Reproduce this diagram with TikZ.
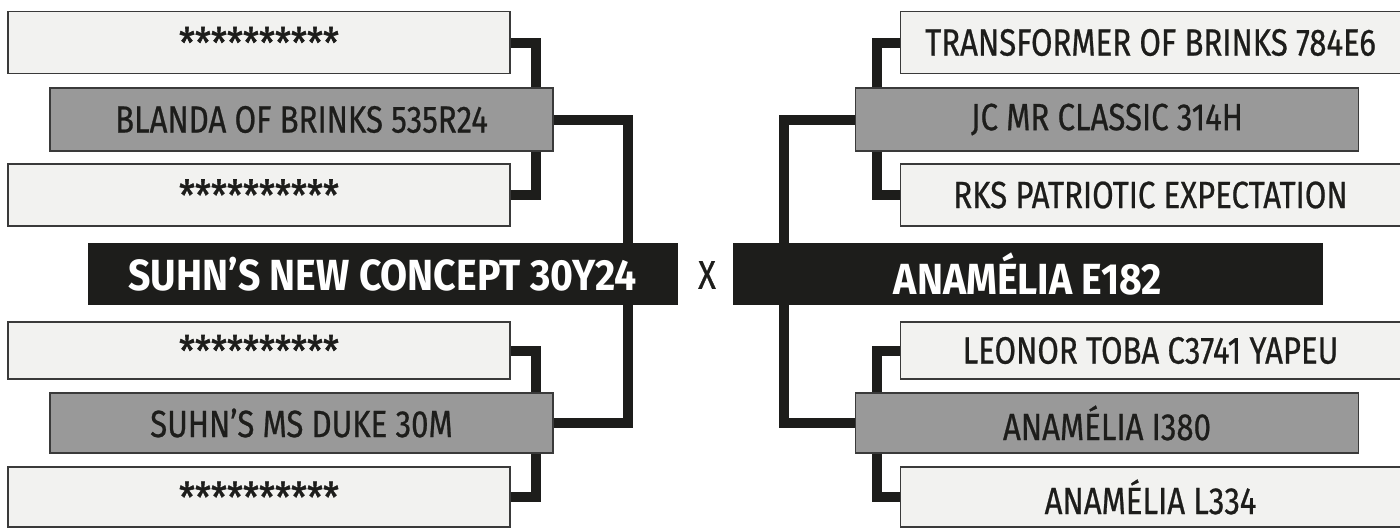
\documentclass[tikz,border=0pt]{standalone}
\usepackage{fontspec}
\setmainfont{Fira Sans}[FakeStretch=0.82,FakeBold=0.6]
\newfontfamily\mainboldfont{Fira Sans}[FakeStretch=0.9]
\newfontfamily\starfont{Fira Sans}[FakeStretch=0.86,FakeBold=1.2]
\definecolor{ink}{HTML}{1D1D1B}
\definecolor{lightfill}{HTML}{F2F2F0}
\definecolor{midfill}{HTML}{999999}
\definecolor{edge}{HTML}{3A3A3A}
\newcommand{\stars}{\raisebox{-1.5pt}{\starfont\fontsize{21}{22}\selectfont **********}}
\begin{document}
\begin{tikzpicture}[x=0.5pt,y=-0.5pt,
  lightbox/.style={draw=edge,line width=0.6pt,fill=lightfill,text=ink,inner sep=0pt,
    minimum width=251pt,minimum height=31pt,font=\fontsize{19}{20}\selectfont},
  midbox/.style={draw=edge,line width=0.6pt,fill=midfill,text=ink,inner sep=0pt,
    minimum width=251.5pt,minimum height=31.5pt,font=\fontsize{19}{20}\selectfont},
  mainbox/.style={fill=ink,text=white,inner sep=0pt,
    minimum width=295pt,minimum height=31pt,font=\mainboldfont\bfseries\fontsize{21.8}{22}\selectfont},
  conn/.style={draw=ink,line width=5pt,line join=miter}]
\useasboundingbox (0,0) rectangle (1400,527);
% left side
\node[lightbox] (L1) at (259,42.5) {\stars};
\node[midbox]   (L2) at (301.5,119.5) {BLANDA OF BRINKS 535R24};
\node[lightbox] (L3) at (259,195) {\stars};
\node[mainbox]  (ML) at (382.5,274) {SUHN’S NEW CONCEPT 30Y24};
\node[lightbox,minimum height=28.5pt] (L4) at (259,350.5) {\stars};
\node[midbox,minimum height=30pt]   (L5) at (301.5,423) {SUHN’S MS DUKE 30M};
\node[lightbox,minimum height=30pt] (L6) at (259,497) {\stars};
% middle
\node[text=ink,font=\fontsize{20}{21}\selectfont] (X) at (707,275) {X};
% right side
\node[lightbox,minimum width=250pt] (R1) at (1150.5,42.5) {TRANSFORMER OF BRINKS 784E6};
\node[midbox]   (R2) at (1107,119.5) {JC MR CLASSIC 314H};
\node[lightbox,minimum width=250pt] (R3) at (1150.5,195) {RKS PATRIOTIC EXPECTATION};
\node[mainbox]  (MR) at (1028,274) {ANAMÉLIA E182};
\node[lightbox,minimum width=250pt,minimum height=28.5pt] (R4) at (1150.5,350.5) {LEONOR TOBA C3741 YAPEU};
\node[midbox,minimum height=30pt]   (R5) at (1107,423) {ANAMÉLIA I380};
\node[lightbox,minimum width=250pt,minimum height=30pt] (R6) at (1150.5,497) {ANAMÉLIA L334};
% junction columns
\coordinate (jL) at (536,0);
\coordinate (jM) at (628,0);
\coordinate (jR) at (877,0);
\coordinate (jMR) at (784,0);
% connectors left
\draw[conn] (L1.east) -| (L2.north -| jL);
\draw[conn] (L2.south -| jL) |- (L3.east);
\draw[conn] (L2.east) -| (ML.north -| jM);
\draw[conn] (ML.south -| jM) |- (L5.east);
\draw[conn] (L4.east) -| (L5.north -| jL);
\draw[conn] (L5.south -| jL) |- (L6.east);
% connectors right
\draw[conn] (R1.west) -| (R2.north -| jR);
\draw[conn] (R2.south -| jR) |- (R3.west);
\draw[conn] (R2.west) -| (MR.north -| jMR);
\draw[conn] (MR.south -| jMR) |- (R5.west);
\draw[conn] (R4.west) -| (R5.north -| jR);
\draw[conn] (R5.south -| jR) |- (R6.west);
\end{tikzpicture}
\end{document}
